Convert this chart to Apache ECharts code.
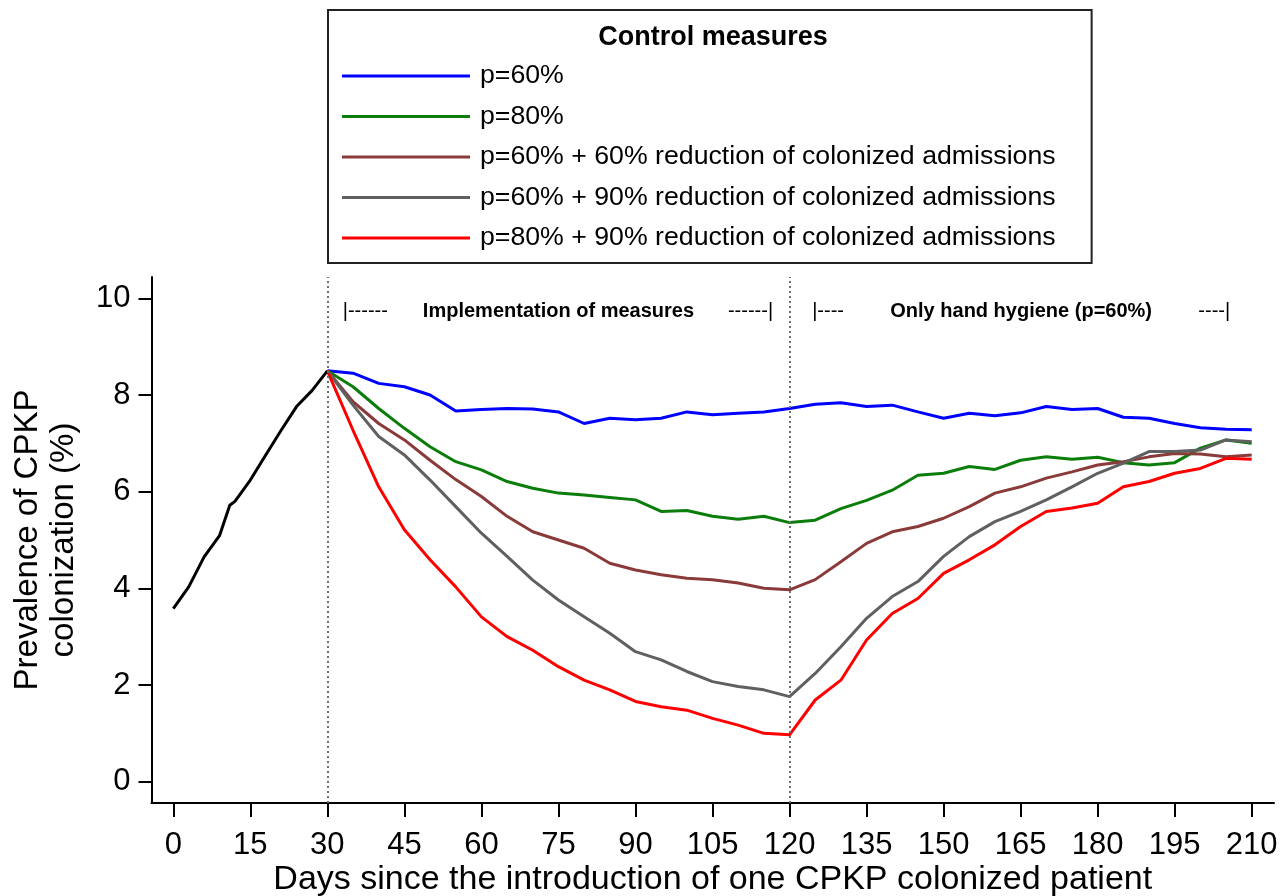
<!DOCTYPE html>
<html>
<head>
<meta charset="utf-8">
<script src="https://cdn.jsdelivr.net/npm/echarts@6/dist/echarts.min.js"></script>
<style>
  html, body { margin: 0; padding: 0; background: #fff; }
  #chart { width: 1288px; height: 896px; }
</style>
</head>
<body>
<div id="chart"></div>
<script>
// days 0-30: before any measure
const preDays = [0, 3, 6, 9, 11, 12, 15, 18, 21, 24, 27, 30];
const preVals = [3.58, 4.03, 4.65, 5.09, 5.72, 5.8, 6.24, 6.76, 7.27, 7.76, 8.09, 8.5];

// days 30-210: one curve per control strategy
const days = [30, 35, 40, 45, 50, 55, 60, 65, 70, 75, 80, 85, 90, 95, 100, 105, 110, 115, 120,
  125, 130, 135, 140, 145, 150, 155, 160, 165, 170, 175, 180, 185, 190, 195, 200, 205, 210];

const p60 = [8.5, 8.45, 8.24, 8.17, 8.0, 7.67, 7.70, 7.72, 7.71, 7.65, 7.41, 7.52, 7.49, 7.52, 7.65, 7.59, 7.62, 7.65, 7.72,
  7.81, 7.84, 7.76, 7.79, 7.65, 7.52, 7.62, 7.57, 7.63, 7.76, 7.70, 7.72, 7.54, 7.52, 7.41, 7.32, 7.29, 7.28];
const p80 = [8.5, 8.17, 7.72, 7.31, 6.93, 6.62, 6.45, 6.21, 6.07, 5.97, 5.93, 5.88, 5.83, 5.59, 5.61, 5.49, 5.43, 5.49, 5.36,
  5.41, 5.65, 5.82, 6.03, 6.34, 6.38, 6.52, 6.46, 6.65, 6.72, 6.67, 6.71, 6.60, 6.55, 6.60, 6.90, 7.07, 7.0];
const p60r60 = [8.5, 7.86, 7.41, 7.07, 6.65, 6.25, 5.90, 5.49, 5.17, 5.00, 4.83, 4.52, 4.38, 4.28, 4.21, 4.18, 4.11, 4.00, 3.97,
  4.18, 4.55, 4.93, 5.17, 5.28, 5.45, 5.69, 5.97, 6.10, 6.28, 6.41, 6.55, 6.62, 6.72, 6.79, 6.78, 6.72, 6.76];
const p60r90 = [8.5, 7.79, 7.14, 6.76, 6.24, 5.69, 5.14, 4.66, 4.17, 3.76, 3.41, 3.07, 2.69, 2.52, 2.28, 2.07, 1.97, 1.90, 1.76,
  2.24, 2.79, 3.38, 3.83, 4.14, 4.66, 5.07, 5.38, 5.59, 5.83, 6.10, 6.38, 6.59, 6.83, 6.83, 6.86, 7.07, 7.03];
const p80r90 = [8.5, 7.27, 6.10, 5.21, 4.59, 4.03, 3.41, 3.00, 2.72, 2.38, 2.10, 1.90, 1.66, 1.55, 1.48, 1.31, 1.17, 1.00, 0.97,
  1.69, 2.10, 2.93, 3.48, 3.79, 4.31, 4.59, 4.90, 5.28, 5.59, 5.66, 5.76, 6.10, 6.21, 6.38, 6.48, 6.69, 6.67];

const seriesNames = [
  'p=60%',
  'p=80%',
  'p=60% + 60% reduction of colonized admissions',
  'p=60% + 90% reduction of colonized admissions',
  'p=80% + 90% reduction of colonized admissions'
];
const seriesVals = [p60, p80, p60r60, p60r90, p80r90];
const colors = ['#0000ff', '#0b7d0b', '#8b3a3a', '#606060', '#ff0000'];

const xTicks = [0, 15, 30, 45, 60, 75, 90, 105, 120, 135, 150, 165, 180, 195, 210];
const yTicks = [0, 2, 4, 6, 8, 10];
const phaseDays = [30, 120];

// text notes above the curves (x in days)
const noteTexts = ['|------', 'Implementation of measures', '------|', '|----', 'Only hand hygiene (p=60%)', '----|'];
const noteDays = [33, 75, 116.8, 124.4, 165.1, 205.8];
const noteLevel = 9.72;

const font = "'Liberation Sans', Arial, sans-serif";
const noteAlign = ['left', 'center', 'right', 'left', 'center', 'right'];

const chart = echarts.init(document.getElementById('chart'));

const series = [{
  name: 'pre',
  type: 'line',
  data: preDays.map((d, i) => [d, preVals[i]]),
  symbol: 'none',
  lineStyle: { color: '#000', width: 3 },
  z: 3,
  markLine: {
    silent: true,
    symbol: ['none', 'none'],
    label: { show: false },
    lineStyle: { type: [2, 3], color: '#6e6e6e', width: 2 },
    data: phaseDays.map(d => ({ xAxis: d }))
  },
  markPoint: {
    silent: true,
    symbol: 'circle',
    symbolSize: 1,
    itemStyle: { color: 'rgba(0,0,0,0)' },
    label: { show: true, position: 'inside', color: '#000', fontFamily: font, fontSize: 20 },
    data: noteTexts.map((t, i) => ({
      coord: [noteDays[i], noteLevel],
      label: { formatter: t, align: noteAlign[i], fontWeight: /^[-|]/.test(t) ? 'normal' : 'bold' }
    }))
  }
}];

seriesNames.forEach((name, k) => {
  series.push({
    name: name,
    type: 'line',
    data: days.map((d, i) => [d, seriesVals[k][i]]),
    symbol: 'none',
    lineStyle: { color: colors[k], width: 3 },
    itemStyle: { color: colors[k] },
    z: 2
  });
});

chart.setOption({
  animation: false,
  backgroundColor: '#fff',
  textStyle: { fontFamily: font },
  grid: { left: 151.5, right: 14, top: 277, bottom: 93, containLabel: false, outerBoundsMode: 'none' },
  legend: {
    data: seriesNames,
    orient: 'vertical',
    left: 328,
    top: 10,
    padding: [51, 36, 10, 14],
    icon: 'rect',
    itemWidth: 128,
    itemHeight: 3,
    itemGap: 10.5,
    selectedMode: false,
    borderColor: '#222',
    borderWidth: 2,
    textStyle: { fontSize: 26.7, lineHeight: 30, color: '#000', fontFamily: font, padding: [0, 0, 0, 5] }
  },
  graphic: [{
    type: 'text',
    x: 713,
    y: 38,
    style: {
      text: 'Control measures',
      font: "bold 27px 'Liberation Sans', Arial, sans-serif",
      fill: '#000',
      textAlign: 'center',
      textVerticalAlign: 'middle'
    }
  }],
  xAxis: {
    type: 'value',
    min: -4.245,
    max: 214.34,
    name: 'Days since the introduction of one CPKP colonized patient',
    nameLocation: 'middle',
    nameGap: 59,
    nameMoveOverlap: false,
    nameTextStyle: { fontSize: 34, lineHeight: 36, color: '#000', fontFamily: font },
    axisLine: { show: true, onZero: false, lineStyle: { color: '#000', width: 2 } },
    axisTick: { show: true, customValues: xTicks, length: 14, lineStyle: { color: '#000', width: 2 } },
    axisLabel: { show: true, customValues: xTicks, margin: 27, fontSize: 31, lineHeight: 31, color: '#000', fontFamily: font },
    splitLine: { show: false }
  },
  yAxis: {
    type: 'value',
    min: -0.4406,
    max: 10.4406,
    name: 'Prevalence of CPKP\ncolonization (%)',
    nameLocation: 'middle',
    nameRotate: 90,
    nameGap: 70,
    nameMoveOverlap: false,
    nameTextStyle: { fontSize: 33, lineHeight: 36, color: '#000', fontFamily: font, align: 'center' },
    axisLine: { show: true, onZero: false, lineStyle: { color: '#000', width: 2 } },
    axisTick: { show: true, customValues: yTicks, length: 13, lineStyle: { color: '#000', width: 2 } },
    axisLabel: { show: true, customValues: yTicks, margin: 21, fontSize: 31, color: '#000', fontFamily: font },
    splitLine: { show: false }
  },
  series: series
});
</script>
</body>
</html>
